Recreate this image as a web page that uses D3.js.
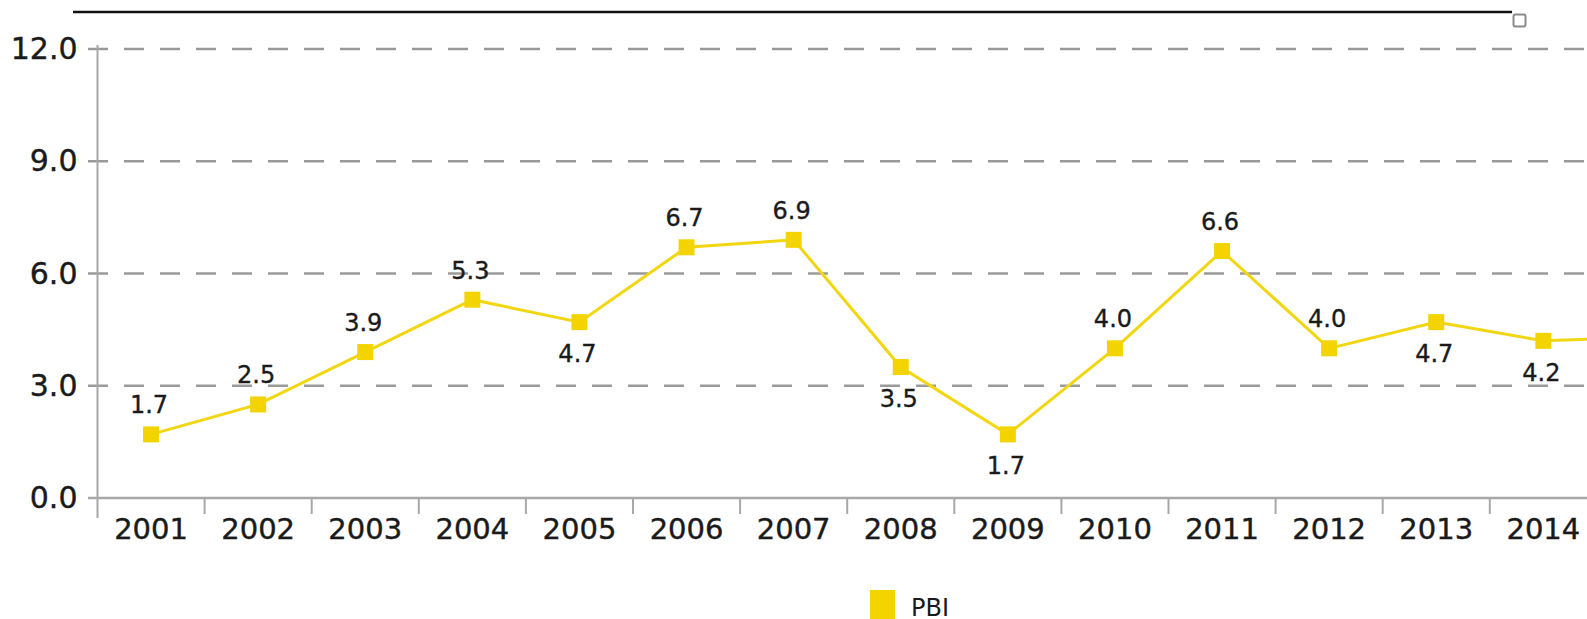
<!DOCTYPE html>
<html>
<head>
<meta charset="utf-8">
<script src="https://cdn.jsdelivr.net/npm/d3@7/dist/d3.min.js"></script>
<style>
  html, body { margin: 0; padding: 0; background: #fff; overflow: hidden; }
  svg { display: block; font-family: "DejaVu Sans", Verdana, sans-serif; }
</style>
</head>
<body>
<svg id="chart" width="1587" height="619"></svg>
<script>
// ---- data ----
const years = ["2001","2002","2003","2004","2005","2006","2007","2008","2009","2010","2011","2012","2013","2014","2015"];
const pbi   = [1.7, 2.5, 3.9, 5.3, 4.7, 6.7, 6.9, 3.5, 1.7, 4.0, 6.6, 4.0, 4.7, 4.2, 4.3];
const labelSide = ["above","above","above","above","below","above","above","below","below","above","above","above","below","below","above"];
const yTicks = [0, 3, 6, 9, 12];
const seriesName = "PBI";

// ---- layout ----
const W = 1587, H = 619;
const x0 = 97.5, bandW = 107.1;
const yTop = 49, yBottom = 498;
const svg = d3.select("#chart");

const x = d3.scaleBand().domain(years).range([x0, x0 + bandW * years.length]).padding(0);
const y = d3.scaleLinear().domain([0, 12]).range([yBottom, yTop]);

const lineColor = "#f2d612";
const markColor = "#f3d400";
const textColor = "#1a1a1a";

// top decorative rule and box
svg.append("line").attr("x1", 73).attr("x2", 1512).attr("y1", 12).attr("y2", 12)
  .attr("stroke", "#111").attr("stroke-width", 2.5);
svg.append("rect").attr("x", 1513.5).attr("y", 14.5).attr("width", 12).attr("height", 12)
  .attr("rx", 2).attr("fill", "#fff").attr("stroke", "#8a8a8a").attr("stroke-width", 2);

// gridlines
svg.append("g").selectAll("line").data(yTicks.filter(d => d > 0)).join("line")
  .attr("x1", 88).attr("x2", W)
  .attr("y1", d => y(d)).attr("y2", d => y(d))
  .attr("stroke", "#9a9a9a").attr("stroke-width", 2.5)
  .attr("stroke-dasharray", "20,16");

// y axis
const yAxis = d3.axisLeft(y).tickValues(yTicks).tickFormat(d3.format(".1f")).tickSize(0).tickPadding(20);
const gy = svg.append("g").attr("transform", `translate(${x0},0)`).call(yAxis);
gy.select(".domain").remove();
gy.selectAll("text").attr("font-size", 30).attr("fill", textColor)
  .attr("stroke", textColor).attr("stroke-width", 0.4)
  .attr("font-family", "DejaVu Sans, Verdana, sans-serif");
svg.append("line").attr("x1", x0).attr("x2", x0).attr("y1", 45).attr("y2", 518)
  .attr("stroke", "#a8a8a8").attr("stroke-width", 2);

// x axis
svg.append("line").attr("x1", 88).attr("x2", W).attr("y1", yBottom).attr("y2", yBottom)
  .attr("stroke", "#a8a8a8").attr("stroke-width", 2.5);
const xAxis = d3.axisBottom(x).tickSize(0).tickPadding(20);
const gx = svg.append("g").attr("transform", `translate(0,${yBottom})`).call(xAxis);
gx.select(".domain").remove();
gx.selectAll("text").attr("font-size", 29).attr("fill", textColor)
  .attr("stroke", textColor).attr("stroke-width", 0.4)
  .attr("font-family", "DejaVu Sans, Verdana, sans-serif");
svg.append("g").selectAll("line").data(years.slice(1)).join("line")
  .attr("x1", d => x(d)).attr("x2", d => x(d))
  .attr("y1", yBottom).attr("y2", yBottom + 16)
  .attr("stroke", "#a8a8a8").attr("stroke-width", 2);

// line
const pts = years.map((yr, i) => ({ yr, v: pbi[i], side: labelSide[i] }));
const line = d3.line().x(d => x(d.yr) + x.bandwidth() / 2).y(d => y(d.v));
svg.append("path").datum(pts).attr("d", line)
  .attr("fill", "none").attr("stroke", lineColor).attr("stroke-width", 3);

// markers
const ms = 16;
svg.append("g").selectAll("rect").data(pts).join("rect")
  .attr("x", d => x(d.yr) + x.bandwidth() / 2 - ms / 2)
  .attr("y", d => y(d.v) - ms / 2)
  .attr("width", ms).attr("height", ms)
  .attr("fill", markColor);

// data labels
svg.append("g").selectAll("text").data(pts).join("text")
  .attr("x", d => x(d.yr) + x.bandwidth() / 2 - 2)
  .attr("y", d => y(d.v) + (d.side === "above" ? -21 : 40))
  .attr("text-anchor", "middle")
  .attr("font-size", 24).attr("fill", textColor)
  .attr("stroke", textColor).attr("stroke-width", 0.35)
  .text(d => d3.format(".1f")(d.v));

// legend
svg.append("rect").attr("x", 870).attr("y", 590).attr("width", 25).attr("height", 30)
  .attr("fill", markColor);
svg.append("text").attr("x", 911).attr("y", 616).attr("font-size", 24).attr("fill", textColor)
  .text(seriesName);
</script>
</body>
</html>
